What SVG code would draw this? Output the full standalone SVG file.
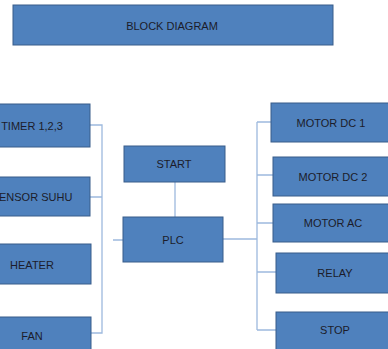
<svg xmlns="http://www.w3.org/2000/svg" width="388" height="349" viewBox="0 0 388 349">
<style>
.box{fill:#4F81BD;stroke:#385D8A;stroke-width:1}
.lbl{font-family:"Liberation Sans",Arial,sans-serif;font-size:11px;fill:#1C1C2A;text-anchor:middle;dominant-baseline:central}
.con{stroke:#9DB9DE;stroke-width:1.3;fill:none}
</style>
<rect width="388" height="349" fill="#FFFFFF"/>
<g id="title"><rect class="box" x="13" y="5" width="320" height="40"/><text class="lbl" x="172" y="26">BLOCK DIAGRAM</text></g>
<g id="connectors">
<path class="con" d="M90 125 H102 V333 H91 M90 197 H102 M113 240 H124 M175 182 V217 M223 239 H257 M257 122 V330 M257 122 H271 M257 175 H273 M257 223 H273 M257 272 H276 M257 330 H276"/>
</g>
<g id="timer"><rect class="box" x="-27" y="104" width="117" height="43"/><text class="lbl" x="32" y="126">TIMER 1,2,3</text></g>
<g id="sensor"><rect class="box" x="-27" y="177" width="117" height="39"/><text class="lbl" x="32" y="197">SENSOR SUHU</text></g>
<g id="heater"><rect class="box" x="-27" y="244" width="118" height="40"/><text class="lbl" x="32" y="265">HEATER</text></g>
<g id="fan"><rect class="box" x="-27" y="317" width="118" height="40"/><text class="lbl" x="32" y="336">FAN</text></g>
<g id="start"><rect class="box" x="124" y="146" width="101" height="36"/><text class="lbl" x="174" y="164">START</text></g>
<g id="plc"><rect class="box" x="123" y="217" width="100" height="45"/><text class="lbl" x="173" y="240">PLC</text></g>
<g id="motordc1"><rect class="box" x="271" y="103" width="120" height="39"/><text class="lbl" x="331" y="123">MOTOR DC 1</text></g>
<g id="motordc2"><rect class="box" x="273" y="157" width="120" height="39"/><text class="lbl" x="333" y="177">MOTOR DC 2</text></g>
<g id="motorac"><rect class="box" x="273" y="204" width="120" height="38"/><text class="lbl" x="333" y="223">MOTOR AC</text></g>
<g id="relay"><rect class="box" x="276" y="253" width="120" height="40"/><text class="lbl" x="335" y="273">RELAY</text></g>
<g id="stop"><rect class="box" x="276" y="312" width="120" height="42"/><text class="lbl" x="335" y="330">STOP</text></g>
</svg>
